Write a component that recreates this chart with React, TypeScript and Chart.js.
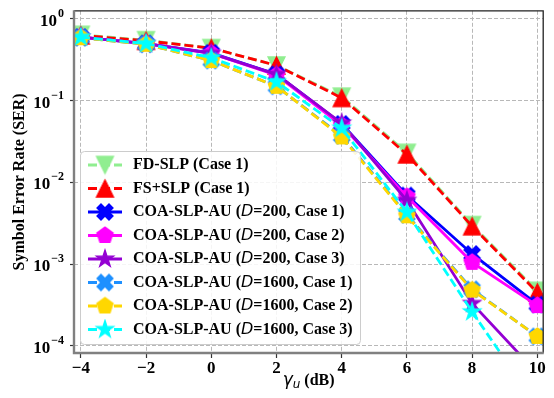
import { useEffect, useRef } from 'react';
import { Chart, registerables } from 'chart.js';

Chart.register(...registerables);

// ---------------- data ----------------
const snrDb = [-4, -2, 0, 2, 4, 6, 8, 10];
const fdSlpCase1 = [0.64, 0.55, 0.44, 0.27, 0.112, 0.023, 0.003, 0.00047];
const fsSlpCase1 = [0.63, 0.54, 0.44, 0.27, 0.108, 0.022, 0.0029, 0.00045];
const coaD200Case1 = [0.6, 0.5, 0.385, 0.21, 0.052, 0.0069, 0.00133, 0.00032];
const coaD200Case2 = [0.6, 0.5, 0.38, 0.205, 0.05, 0.0067, 0.00105, 0.00031];
const coaD200Case3 = [0.6, 0.5, 0.38, 0.21, 0.053, 0.006, 0.00033, 0.000046];
const coaD1600Case1 = [0.59, 0.49, 0.31, 0.15, 0.037, 0.004, 0.00049, 0.00013];
const coaD1600Case2 = [0.59, 0.49, 0.31, 0.15, 0.036, 0.0039, 0.00048, 0.00013];
const coaD1600Case3 = [0.6, 0.5, 0.335, 0.17, 0.046, 0.0043, 0.00026, 0.000018];

const seriesLabels = [
  'FD-SLP (Case 1)',
  'FS+SLP (Case 1)',
  'COA-SLP-AU (D=200, Case 1)',
  'COA-SLP-AU (D=200, Case 2)',
  'COA-SLP-AU (D=200, Case 3)',
  'COA-SLP-AU (D=1600, Case 1)',
  'COA-SLP-AU (D=1600, Case 2)',
  'COA-SLP-AU (D=1600, Case 3)',
];
const seriesValues = [
  fdSlpCase1, fsSlpCase1, coaD200Case1, coaD200Case2, coaD200Case3,
  coaD1600Case1, coaD1600Case2, coaD1600Case3,
];
const seriesColors = ['#90EE90', '#FF0000', '#0000FF', '#FF00FF', '#9400D3', '#1E90FF', '#FFD700', '#00FFFF'];
const seriesMarkers = ['triangleDown', 'triangleUp', 'xFilled', 'pentagon', 'star', 'xFilled', 'pentagon', 'star'];
const seriesDashed = [true, true, false, false, false, true, true, true];

const xTicks = [-4, -2, 0, 2, 4, 6, 8, 10];
const yTickExponents = [0, -1, -2, -3, -4];
const yAxisTitle = 'Symbol Error Rate (SER)';
const xAxisTitle = ['γ', 'u', ' (dB)'];

// ---------------- styles ----------------
const SERIF = '"Liberation Serif", "Times New Roman", serif';
const SANS = '"DejaVu Sans", sans-serif';
const DASH = [9, 4];

function makeMarker(shape: string, color: string, size: number): HTMLCanvasElement {
  const pad = 2;
  const dim = Math.ceil(size + pad * 2);
  const c = document.createElement('canvas');
  c.width = dim;
  c.height = dim;
  const g = c.getContext('2d') as CanvasRenderingContext2D;
  const cx = dim / 2;
  const cy = dim / 2;
  const r = size / 2;
  let pts: number[][] = [];
  if (shape === 'triangleDown') pts = [[0, r], [-r, -r], [r, -r]];
  else if (shape === 'triangleUp') pts = [[0, -r], [-r, r], [r, r]];
  else if (shape === 'xFilled') {
    const u = [[0.25, 0], [0.5, 0.25], [0.75, 0], [1, 0.25], [0.75, 0.5], [1, 0.75], [0.75, 1], [0.5, 0.75], [0.25, 1], [0, 0.75], [0.25, 0.5], [0, 0.25]];
    pts = u.map(([a, b]) => [(a - 0.5) * size, (b - 0.5) * size]);
  } else if (shape === 'pentagon') {
    for (let i = 0; i < 5; i++) {
      const a = (-90 + i * 72) * Math.PI / 180;
      pts.push([r * Math.cos(a), r * Math.sin(a)]);
    }
  } else if (shape === 'star') {
    for (let i = 0; i < 10; i++) {
      const rad = i % 2 === 0 ? r : r * 0.381966;
      const a = (-90 + i * 36) * Math.PI / 180;
      pts.push([rad * Math.cos(a), rad * Math.sin(a)]);
    }
  }
  g.beginPath();
  pts.forEach(([x, y], i) => (i === 0 ? g.moveTo(cx + x, cy + y) : g.lineTo(cx + x, cy + y)));
  g.closePath();
  g.fillStyle = color;
  g.strokeStyle = color;
  g.lineWidth = 1.3;
  g.lineJoin = 'miter';
  g.fill();
  g.stroke();
  return c;
}

const markerSizes: Record<string, number> = { triangleDown: 17, triangleUp: 17, xFilled: 16, pentagon: 17, star: 18 };

const decorPlugin = {
  id: 'decor',
  afterDraw(chart: any) {
    const { ctx, chartArea: ca, scales } = chart;
    const markers = chart.data.datasets.map((d: any) => d.pointStyle as HTMLCanvasElement);
    ctx.save();
    // spines
    ctx.setLineDash([]);
    ctx.strokeStyle = '#222';
    ctx.lineWidth = 1.3;
    ctx.beginPath();
    ctx.moveTo(ca.left, ca.top);
    ctx.lineTo(ca.right, ca.top);
    ctx.lineTo(ca.right, ca.bottom);
    ctx.stroke();
    ctx.strokeStyle = '#808080';
    ctx.lineWidth = 2.4;
    ctx.beginPath();
    ctx.moveTo(ca.left, ca.top - 0.6);
    ctx.lineTo(ca.left, ca.bottom);
    ctx.lineTo(ca.right + 0.6, ca.bottom);
    ctx.stroke();

    // y tick labels 10^k
    ctx.fillStyle = '#000';
    ctx.textAlign = 'left';
    ctx.textBaseline = 'alphabetic';
    for (const e of yTickExponents) {
      const py = scales.y.getPixelForValue(Math.pow(10, e));
      const base = '10';
      const sup = e === 0 ? '0' : '\u2212' + Math.abs(e);
      ctx.font = `bold 17px ${SERIF}`;
      const wb = ctx.measureText(base).width;
      ctx.font = `bold 12px ${SERIF}`;
      const ws = ctx.measureText(sup).width;
      const right = 64;
      const x0 = right - ws - wb - 1;
      ctx.font = `bold 17px ${SERIF}`;
      ctx.fillText(base, x0, py + 7);
      ctx.font = `bold 12px ${SERIF}`;
      ctx.fillText(sup, x0 + wb + 1, py - 2);
    }

    // y title
    ctx.save();
    ctx.translate(20, (ca.top + ca.bottom) / 2);
    ctx.rotate(-Math.PI / 2);
    ctx.textAlign = 'center';
    ctx.textBaseline = 'middle';
    ctx.font = `bold 16px ${SERIF}`;
    ctx.fillText(yAxisTitle, 0, 0);
    ctx.restore();

    // x title: gamma_u (dB)
    {
      const f1 = `italic 17px ${SANS}`;
      const f2 = `italic 12px ${SANS}`;
      const f3 = `bold 16px ${SERIF}`;
      ctx.font = f1; const w1 = ctx.measureText(xAxisTitle[0]).width;
      ctx.font = f2; const w2 = ctx.measureText(xAxisTitle[1]).width;
      ctx.font = f3; const w3 = ctx.measureText(xAxisTitle[2]).width;
      const total = w1 + w2 + w3;
      let x = (ca.left + ca.right) / 2 - total / 2;
      const yb = 385;
      ctx.textAlign = 'left';
      ctx.font = f1; ctx.fillText(xAxisTitle[0], x, yb); x += w1;
      ctx.font = f2; ctx.fillText(xAxisTitle[1], x, yb + 3); x += w2;
      ctx.font = f3; ctx.fillText(xAxisTitle[2], x, yb);
    }

    // legend
    const lx = 80.5, ly = 151.5, lw = 280, lh = 193;
    ctx.beginPath();
    (ctx as any).roundRect(lx, ly, lw, lh, 4);
    ctx.fillStyle = 'rgba(255,255,255,0.85)';
    ctx.fill();
    ctx.strokeStyle = '#cccccc';
    ctx.lineWidth = 1;
    ctx.stroke();
    const rowH = 23.5;
    seriesLabels.forEach((label, i) => {
      const cy = 165 + i * rowH;
      ctx.strokeStyle = seriesColors[i];
      ctx.lineWidth = 2.8;
      ctx.setLineDash(seriesDashed[i] ? DASH : []);
      ctx.beginPath();
      ctx.moveTo(88, cy);
      ctx.lineTo(122, cy);
      ctx.stroke();
      ctx.setLineDash([]);
      const m = markers[i];
      if (m) ctx.drawImage(m, 105 - m.width / 2, cy - m.height / 2);
      // text with italic D
      ctx.fillStyle = '#000';
      ctx.textBaseline = 'middle';
      ctx.textAlign = 'left';
      let x = 133;
      const idx = label.indexOf('(D=');
      if (idx >= 0) {
        const p1 = label.slice(0, idx + 1);
        const p2 = 'D';
        const p3 = label.slice(idx + 2);
        ctx.font = `bold 16px ${SERIF}`;
        ctx.fillText(p1, x, cy);
        x += ctx.measureText(p1).width;
        ctx.font = `italic 16px ${SANS}`;
        ctx.fillText(p2, x, cy);
        x += ctx.measureText(p2).width;
        ctx.font = `bold 16px ${SERIF}`;
        ctx.fillText(p3, x, cy);
      } else {
        ctx.font = `bold 16px ${SERIF}`;
        ctx.fillText(label, x, cy);
      }
    });
    ctx.restore();
  },
};

export default function App() {
  const ref = useRef<HTMLCanvasElement>(null);
  useEffect(() => {
    document.body.style.margin = '0';
    const markers = seriesMarkers.map((s, i) => makeMarker(s, seriesColors[i], markerSizes[s]));
    const datasets = seriesValues.map((vals, i) => ({
      label: seriesLabels[i],
      data: snrDb.map((x, j) => ({ x, y: vals[j] })),
      borderColor: seriesColors[i],
      backgroundColor: seriesColors[i],
      borderWidth: 2.8,
      borderDash: seriesDashed[i] ? DASH : [],
      pointStyle: markers[i],
      pointRadius: 8,
      pointHoverRadius: 8,
      fill: false,
      tension: 0,
      order: seriesValues.length - 1 - i,
    }));
    const chart = new Chart(ref.current as HTMLCanvasElement, {
      type: 'line',
      data: { datasets },
      options: {
        animation: false,
        responsive: true,
        maintainAspectRatio: false,
        layout: { padding: { top: 8, right: 5, left: 0, bottom: 0 } },
        plugins: { legend: { display: false }, tooltip: { enabled: false } },
        scales: {
          x: {
            type: 'linear',
            min: -4.21,
            max: 10.18,
            afterBuildTicks: (s: any) => { s.ticks = xTicks.map((v) => ({ value: v })); },
            afterFit: (s: any) => { s.height = 45; s.paddingLeft = 0; s.paddingRight = 0; },
            grid: { color: '#b8b8b8', lineWidth: 1, drawTicks: true, tickLength: 5, tickColor: '#333', tickWidth: 1.2 },
            border: { display: false, dash: [4, 2] },
            ticks: {
              color: '#000',
              padding: 0,
              maxRotation: 0,
              autoSkip: false,
              font: { family: SERIF, size: 17, weight: 'bold' },
              callback: (v: any) => (Number(v) < 0 ? '\u2212' + Math.abs(Number(v)) : String(v)),
            },
          },
          y: {
            type: 'logarithmic',
            min: 8.15e-5,
            max: 1.26,
            afterBuildTicks: (s: any) => { s.ticks = yTickExponents.map((e) => ({ value: Math.pow(10, e) })); },
            afterFit: (s: any) => { s.width = 74; s.paddingTop = 0; s.paddingBottom = 0; },
            grid: { color: '#b8b8b8', lineWidth: 1, drawTicks: true, tickLength: 4, tickColor: '#333', tickWidth: 1.2 },
            border: { display: false, dash: [4, 2] },
            ticks: { display: false },
          },
        },
      } as any,
      plugins: [decorPlugin],
    });
    return () => chart.destroy();
  }, []);
  return (
    <div style={{ width: 554, height: 398, position: 'relative' }}>
      <canvas ref={ref} />
    </div>
  );
}
